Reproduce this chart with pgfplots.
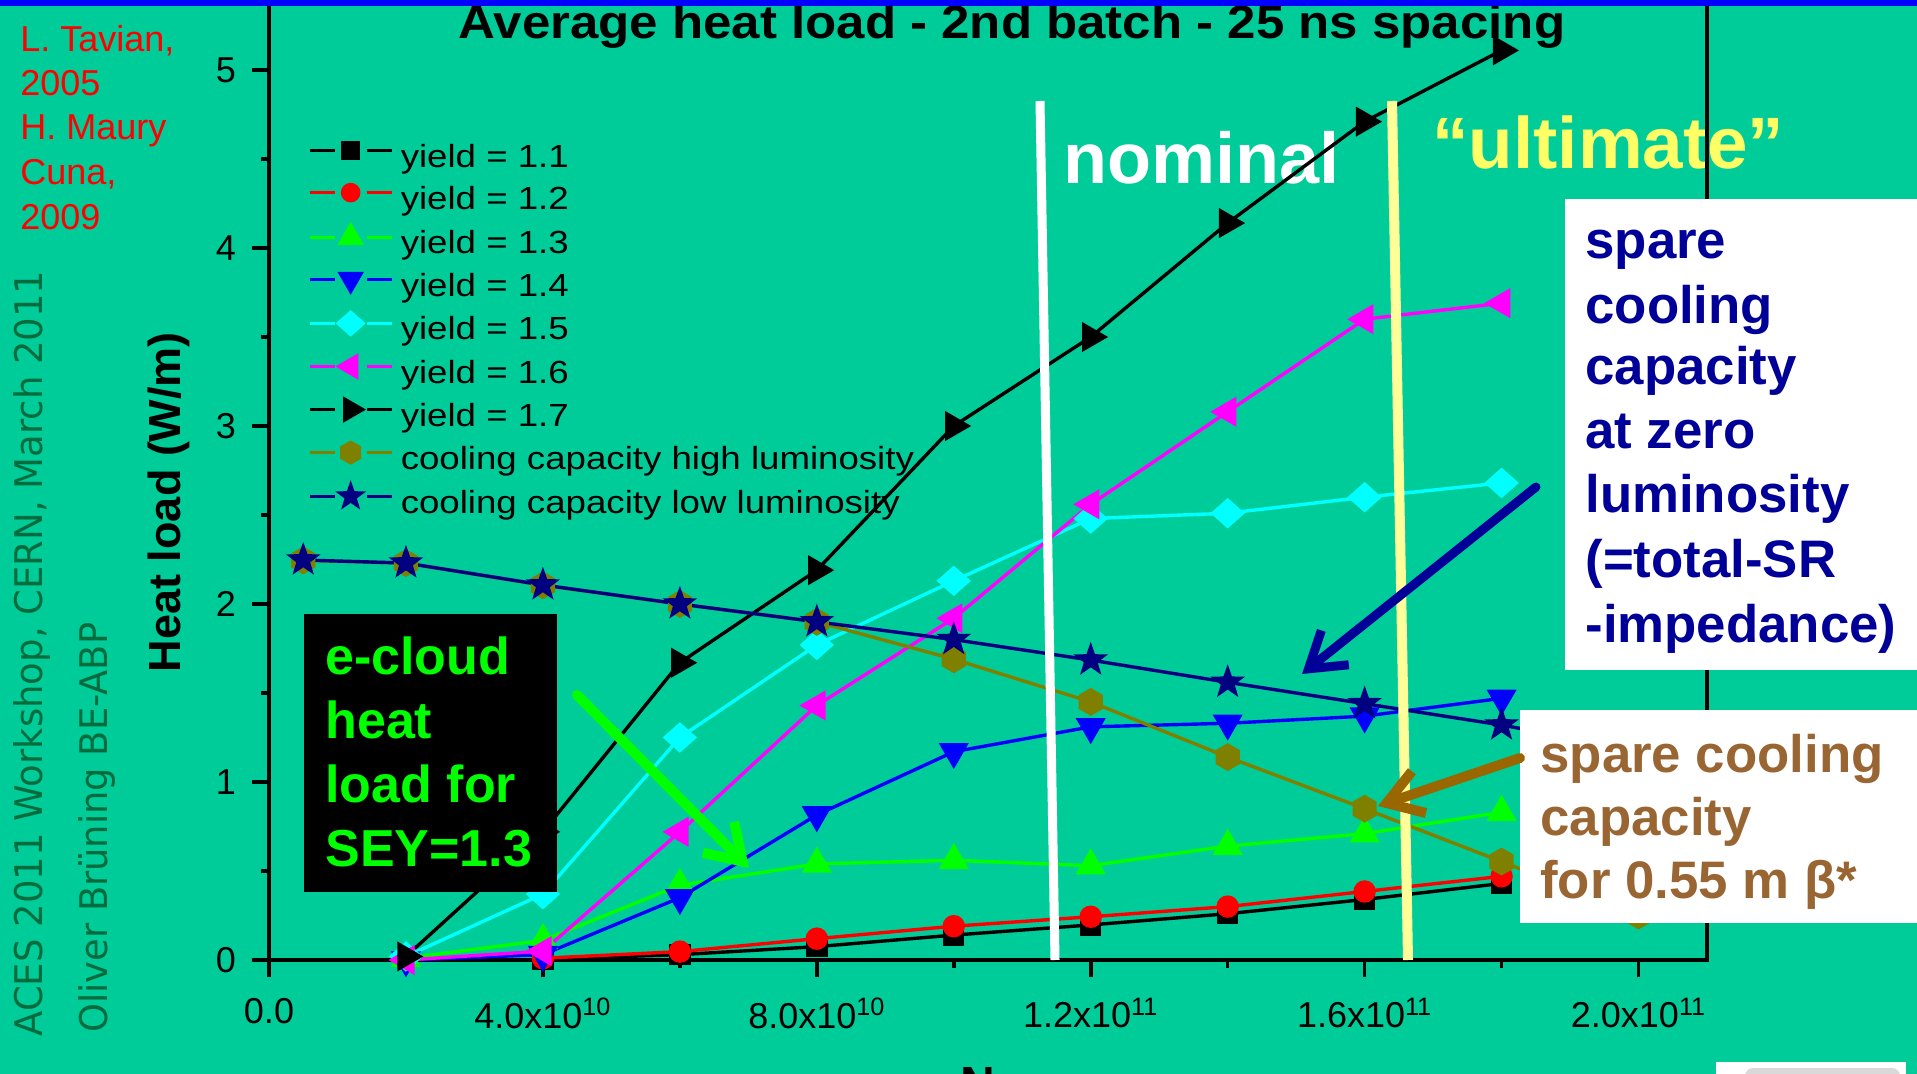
\documentclass[border=0pt]{standalone}
\usepackage{fontspec}
\setmainfont{Liberation Sans}
\newfontfamily\comicfont{DejaVu Sans}
\usepackage{graphicx}
\usepackage{pgfplots}
\usepackage{pgfplotstable}
\pgfplotsset{compat=1.18}
\usetikzlibrary{arrows.meta}

\definecolor{bg}{RGB}{0,204,153}
\definecolor{navyc}{RGB}{0,0,128}
\definecolor{navyt}{RGB}{0,0,153}
\definecolor{olivec}{RGB}{128,128,0}
\definecolor{cyanc}{RGB}{0,255,255}
\definecolor{magc}{RGB}{255,0,255}
\definecolor{greenc}{RGB}{0,255,0}
\definecolor{bluec}{RGB}{0,0,255}
\definecolor{redc}{RGB}{255,0,0}
\definecolor{brownt}{RGB}{153,102,51}
\definecolor{browna}{RGB}{153,102,0}
\definecolor{ylw}{RGB}{255,255,102}
\definecolor{ylwline}{RGB}{255,255,153}
\definecolor{comicg}{RGB}{0,108,62}

\pgfdeclareplotmark{hexagon*}{%
  \pgfpathmoveto{\pgfqpointpolar{90}{\pgfplotmarksize}}%
  \pgfpathlineto{\pgfqpointpolar{150}{\pgfplotmarksize}}%
  \pgfpathlineto{\pgfqpointpolar{210}{\pgfplotmarksize}}%
  \pgfpathlineto{\pgfqpointpolar{270}{\pgfplotmarksize}}%
  \pgfpathlineto{\pgfqpointpolar{330}{\pgfplotmarksize}}%
  \pgfpathlineto{\pgfqpointpolar{30}{\pgfplotmarksize}}%
  \pgfpathclose\pgfusepathqfillstroke}
\pgfdeclareplotmark{fstar}{%
  \pgfpathmoveto{\pgfqpointpolar{90}{\pgfplotmarksize}}%
  \pgfpathlineto{\pgfqpointpolar{126}{0.4\pgfplotmarksize}}%
  \pgfpathlineto{\pgfqpointpolar{162}{\pgfplotmarksize}}%
  \pgfpathlineto{\pgfqpointpolar{198}{0.4\pgfplotmarksize}}%
  \pgfpathlineto{\pgfqpointpolar{234}{\pgfplotmarksize}}%
  \pgfpathlineto{\pgfqpointpolar{270}{0.4\pgfplotmarksize}}%
  \pgfpathlineto{\pgfqpointpolar{306}{\pgfplotmarksize}}%
  \pgfpathlineto{\pgfqpointpolar{342}{0.4\pgfplotmarksize}}%
  \pgfpathlineto{\pgfqpointpolar{18}{\pgfplotmarksize}}%
  \pgfpathlineto{\pgfqpointpolar{54}{0.4\pgfplotmarksize}}%
  \pgfpathclose\pgfusepathqfillstroke}

% x in units of 1e10
\pgfplotstableread{
x y
4 0.005
6 0.03
8 0.075
10 0.14
12 0.197
14 0.26
16 0.34
18 0.43
}\yA
\pgfplotstableread{
x y
4 0.01
6 0.047
8 0.12
10 0.19
12 0.243
14 0.30
16 0.385
18 0.47
}\yB
\pgfplotstableread{
x y
2 0.01
4 0.11
6 0.42
8 0.54
10 0.56
12 0.53
14 0.64
16 0.71
18 0.83
}\yC
\pgfplotstableread{
x y
2 0.0
4 0.03
6 0.35
8 0.815
10 1.17
12 1.31
14 1.33
16 1.37
18 1.47
}\yD
\pgfplotstableread{
x y
2 0.02
4 0.37
6 1.25
8 1.77
10 2.13
12 2.48
14 2.51
16 2.60
18 2.68
}\yE
\pgfplotstableread{
x y
2 0.0
4 0.05
6 0.72
8 1.43
10 1.92
12 2.56
14 3.08
16 3.60
18 3.69
}\yF
\pgfplotstableread{
x y
2 0.02
4 0.72
6 1.67
8 2.19
10 3.00
12 3.50
14 4.14
16 4.71
18 5.11
}\yG
\pgfplotstableread{
x y
0.5 2.245
2 2.23
4 2.105
6 2.0
8 1.9
10 1.69
12 1.45
14 1.14
16 0.85
18 0.553
20 0.25
}\cHigh
\pgfplotstableread{
x y
0.5 2.247
2 2.23
4 2.107
6 2.0
8 1.9
10 1.80
12 1.685
14 1.56
16 1.44
18 1.32
20 1.18
}\cLow

\newcommand{\lgx}[1]{\scalebox{1.145}[1]{#1}}

\begin{document}
\begin{tikzpicture}
\useasboundingbox (0,0) rectangle (958.5pt,-537pt);
\clip (0,0) rectangle (958.5pt,-537pt);
\fill[bg] (0,0) rectangle (958.5pt,-537pt);

\begin{scope}[x=0.5pt,y=-0.5pt]
  \begin{scope}[every node/.style={anchor=base west, inner sep=0pt, text=redc, font=\fontsize{18}{18}\selectfont}]
    \node at (20,51.7) {L. Tavian,};
    \node at (20,96) {2005};
    \node at (20,140) {H. Maury};
    \node at (20,185) {Cuna,};
    \node at (20,230) {2009};
  \end{scope}
  \node[anchor=base west, rotate=90, inner sep=0pt, text=comicg] at (42,1037)
    {\resizebox{383pt}{14.5pt}{\comicfont ACES 2011 Workshop, CERN, March 2011}};
  \node[anchor=base west, rotate=90, inner sep=0pt, text=comicg] at (107,1033)
    {\resizebox{205pt}{14.5pt}{\comicfont Oliver Brüning BE-ABP}};
  \node[anchor=base, inner sep=0pt, font=\bfseries\fontsize{23.4}{26}\selectfont] at (1012,39)
    {\scalebox{1.09}[1]{Average heat load - 2nd batch - 25 ns spacing}};
  \node[anchor=base, rotate=90, inner sep=0pt, font=\bfseries\fontsize{22.5}{24}\selectfont] at (180,502)
    {Heat load (W/m)};
  \node[anchor=base west, inner sep=0pt, text=white, font=\bfseries\fontsize{36}{36}\selectfont] at (1063,184) {nominal};
  \node[anchor=base west, inner sep=0pt, text=ylw, font=\bfseries\fontsize{36.4}{36}\selectfont] at (1432,169) {“ultimate”};
\end{scope}

\begin{axis}[
  at={(134.5pt,-480pt)}, anchor=south west,
  scale only axis, width=719pt, height=482.5pt,
  xmin=0, xmax=21, ymin=0, ymax=5.4213,
  axis line style={line width=1.8pt},
  every tick/.style={black, line width=1.8pt},
  tick align=outside, tick pos=left,
  major tick length=8.5pt, minor tick length=4pt,
  xtick={0,4,8,12,16,20}, minor xtick={2,6,10,14,18},
  xticklabels={0.0, 4.0x10\textsuperscript{10}, 8.0x10\textsuperscript{10}, 1.2x10\textsuperscript{11}, 1.6x10\textsuperscript{11}, 2.0x10\textsuperscript{11}},
  ytick={0,1,2,3,4,5}, minor ytick={0.5,1.5,2.5,3.5,4.5},
  yticklabels={0,1,2,3,4,5},
  ticklabel style={font=\fontsize{18}{18}\selectfont},
  xticklabel style={yshift=-7pt},
  yticklabel style={xshift=-4.5pt},
  legend image code/.code={%
    \draw[#1,mark=none] (0pt,4.3pt) -- (12.3pt,4.3pt);
    \draw[#1,mark=none] (28.5pt,4.3pt) -- (41pt,4.3pt);
    \draw[#1,every mark/.append style={scale=0.85}] plot coordinates {(20.3pt,4.3pt)};
  },
  legend style={at={(0.0271,0.8491)}, anchor=north west, draw=none, fill=none,
    inner sep=0pt, row sep=3.1pt,
    font=\fontsize{16}{18}\selectfont,
    nodes={inner sep=0pt, text height=13pt, text depth=5pt},
    /tikz/every odd column/.append style={column sep=3.5pt}},
  legend cell align=left,
  every axis plot/.append style={line width=1.7pt},
]
\addplot[color=black, mark=square*, mark size=4.5pt] table[x=x,y=y] {\yA};
\addlegendentry{\lgx{yield = 1.1}}
\addplot[color=redc, mark=*, mark size=4.75pt] table[x=x,y=y] {\yB};
\addlegendentry{\lgx{yield = 1.2}}
\addplot[color=greenc, mark=triangle*, mark size=7pt] table[x=x,y=y] {\yC};
\addlegendentry{\lgx{yield = 1.3}}
\addplot[color=bluec, mark=triangle*, mark size=7pt, mark options={rotate=180}] table[x=x,y=y] {\yD};
\addlegendentry{\lgx{yield = 1.4}}
\addplot[color=cyanc, mark=diamond*, mark size=6.5pt, mark options={xscale=1.5}] table[x=x,y=y] {\yE};
\addlegendentry{\lgx{yield = 1.5}}
\addplot[color=magc, mark=triangle*, mark size=7pt, mark options={rotate=90}] table[x=x,y=y] {\yF};
\addlegendentry{\lgx{yield = 1.6}}
\addplot[color=black, mark=triangle*, mark size=7pt, mark options={rotate=-90}] table[x=x,y=y] {\yG};
\addlegendentry{\lgx{yield = 1.7}}
\addplot[color=olivec, mark=hexagon*, mark size=6pt] table[x=x,y=y] {\cHigh};
\addlegendentry{\lgx{cooling capacity high luminosity}}
\addplot[color=navyc, mark=fstar, mark size=6.5pt] table[x=x,y=y] {\cLow};
\addlegendentry{\lgx{cooling capacity low luminosity}}
\end{axis}

\begin{scope}[x=0.5pt,y=-0.5pt]
  \draw[white, line width=4.5pt] (1040,101) -- (1055,960);
  \draw[ylwline, line width=5pt] (1392,101) -- (1408,960);
  \fill[black] (304,614) rectangle (557,892);
  \begin{scope}[every node/.style={anchor=base west, inner sep=0pt, text=greenc, font=\bfseries\fontsize{26}{26}\selectfont}]
    \node at (325,675) {e-cloud};
    \node at (325,738) {heat};
    \node at (325,802) {load for};
    \node at (325,866) {SEY=1.3};
  \end{scope}
  \draw[greenc, line width=5pt, line cap=round, -{Straight Barb[length=17pt,width=22pt]}] (577,695) -- (749,868);
  \fill[white] (1565,199) rectangle (1917,670);
  \begin{scope}[every node/.style={anchor=base west, inner sep=0pt, text=navyt, font=\bfseries\fontsize{26.4}{26}\selectfont}]
    \node at (1585,259) {spare};
    \node at (1585,324) {cooling};
    \node at (1585,385) {capacity};
    \node at (1585,449) {at zero};
    \node at (1585,513) {luminosity};
    \node at (1585,578) {(=total-SR};
    \node at (1585,643) {-impedance)};
  \end{scope}
  \draw[navyt, line width=4.5pt, line cap=round, -{Straight Barb[length=17pt,width=22pt]}] (1536,487) -- (1302,674);
  \fill[white] (1520,710) rectangle (1917,923);
  \begin{scope}[every node/.style={anchor=base west, inner sep=0pt, text=brownt, font=\bfseries\fontsize{26.4}{26}\selectfont}]
    \node at (1540,772) {spare cooling};
    \node at (1540,835) {capacity};
    \node at (1540,898) {for 0.55 m β*};
  \end{scope}
  \draw[browna, line width=5pt, line cap=round, -{Straight Barb[length=17pt,width=22pt]}] (1520,758) -- (1378,806);
  \fill[bluec] (0,0) rectangle (1917,5.7);
  \fill[white] (1716,1062) rectangle (1906,1080);
  \fill[black!15, rounded corners=4pt] (1745,1068) rectangle (1900,1090);
  \node[anchor=north, inner sep=0pt, font=\bfseries\fontsize{24}{24}\selectfont] at (978,1067) {N};
\end{scope}
\end{tikzpicture}
\end{document}
